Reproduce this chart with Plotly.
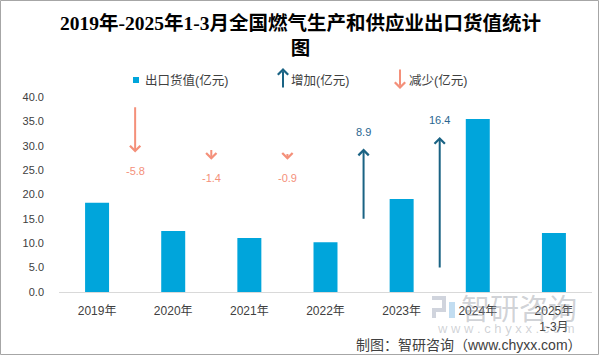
import plotly.graph_objects as go

# ---------------- data ----------------
years = ["2019年", "2020年", "2021年", "2022年", "2023年", "2024年", "2025年<br>1-3月"]
export_value = [18.3, 12.5, 11.1, 10.2, 19.1, 35.5, 12.1]          # 出口货值(亿元)
change_pos = [0.5, 1.5, 2.5, 3.5, 4.5]                              # between categories
change_value = [-5.8, -1.4, -0.9, 8.9, 16.4]                        # 增加/减少(亿元)
change_label = ["-5.8", "-1.4", "-0.9", "8.9", "16.4"]
arrow_base = [23.1, 17.8, 17.3, 8.9, 2.85]                          # start of arrows (secondary scale)
y_ticks = [0, 5, 10, 15, 20, 25, 30, 35, 40]

# ---------------- layout constants ----------------
W, H = 601, 356
L, R, T, B = 59, 9, 97, 64
PW, PH = W - L - R, H - T - B

def pxx(x):
    return (x - L) / PW

def pxy(y):
    return (H - B - y) / PH

BAR = "#00A5DB"
UP = "#1A6384"
DOWN = "#F4907A"
TXT = "#404040"
FONT = "Liberation Sans, Noto Sans CJK SC, sans-serif"

fig = go.Figure()
fig.add_trace(go.Bar(
    x=list(range(len(years))), y=export_value, width=0.315,
    marker=dict(color=BAR, line=dict(width=0)), showlegend=False,
    hoverinfo="skip",
))
fig.add_trace(go.Scatter(
    x=change_pos, y=arrow_base, yaxis="y2", mode="markers",
    marker=dict(opacity=0), showlegend=False, hoverinfo="skip",
))

ann = []
for xp, base, ch, lab in zip(change_pos, arrow_base, change_value, change_label):
    end = base + ch
    col = UP if ch > 0 else DOWN
    ann.append(dict(x=xp, y=end, xref="x", yref="y2", ax=xp, ay=base,
                    axref="x", ayref="y2", text="", showarrow=True,
                    arrowhead=4, arrowsize=1.0, arrowwidth=2, arrowcolor=col))
    ann.append(dict(x=xp, y=end, xref="x", yref="y2", text=lab, showarrow=False,
                    yshift=17 if ch > 0 else -18, yanchor="middle",
                    font=dict(size=11, color="#2A6690" if ch > 0 else DOWN, family=FONT)))

# title
ann.append(dict(x=pxx(300.5), y=pxy(10), xref="paper", yref="paper",
                text="<b>2019年-2025年1-3月全国燃气生产和供应业出口货值统计<br>图</b>",
                showarrow=False, xanchor="center", yanchor="top", align="center",
                font=dict(size=19.5, color="black", family="Liberation Serif, Noto Sans CJK SC")))

# legend (manual)
ann.append(dict(x=pxx(143), y=pxy(80), xref="paper", yref="paper", text="出口货值(亿元)",
                showarrow=False, xanchor="left", yanchor="middle",
                font=dict(size=12.5, color=TXT, family=FONT)))
ann.append(dict(x=pxx(283), y=pxy(68), xref="paper", yref="paper", ax=0, ay=21, text="",
                showarrow=True, arrowhead=4, arrowsize=1.0, arrowwidth=2, arrowcolor=UP))
ann.append(dict(x=pxx(289), y=pxy(80), xref="paper", yref="paper", text="增加(亿元)",
                showarrow=False, xanchor="left", yanchor="middle",
                font=dict(size=12.5, color=TXT, family=FONT)))
ann.append(dict(x=pxx(400), y=pxy(89), xref="paper", yref="paper", ax=0, ay=-21, text="",
                showarrow=True, arrowhead=4, arrowsize=1.0, arrowwidth=2, arrowcolor=DOWN))
ann.append(dict(x=pxx(407), y=pxy(80), xref="paper", yref="paper", text="减少(亿元)",
                showarrow=False, xanchor="left", yanchor="middle",
                font=dict(size=12.5, color=TXT, family=FONT)))

# watermark
ann.append(dict(x=pxx(519), y=pxy(307), xref="paper", yref="paper", text="智研咨询",
                showarrow=False, xanchor="center", yanchor="middle",
                font=dict(size=29, color="rgba(150,155,165,0.45)", family="Noto Sans CJK SC")))
ann.append(dict(x=pxx(506), y=pxy(328), xref="paper", yref="paper",
                text="w w w . c h y x x . c o m",
                showarrow=False, xanchor="center", yanchor="middle",
                font=dict(size=13, color="rgba(150,155,165,0.45)", family=FONT)))
# footer
ann.append(dict(x=pxx(584), y=pxy(345), xref="paper", yref="paper",
                text="制图：智研咨询（www.chyxx.com）",
                showarrow=False, xanchor="right", yanchor="middle",
                font=dict(size=14, color=TXT, family=FONT)))

shapes = [
    # legend marker
    dict(type="rect", xref="paper", yref="paper", x0=pxx(133), x1=pxx(139), y0=pxy(83), y1=pxy(77),
         fillcolor=BAR, line=dict(width=0)),
    # watermark logo (simplified)
    dict(type="rect", xref="paper", yref="paper", x0=pxx(432), x1=pxx(446), y0=pxy(300), y1=pxy(296),
         fillcolor="rgba(150,160,180,0.45)", line=dict(width=0)),
    dict(type="rect", xref="paper", yref="paper", x0=pxx(442), x1=pxx(446), y0=pxy(308), y1=pxy(300),
         fillcolor="rgba(150,160,180,0.45)", line=dict(width=0)),
    dict(type="rect", xref="paper", yref="paper", x0=pxx(432), x1=pxx(446), y0=pxy(312), y1=pxy(308),
         fillcolor="rgba(150,160,180,0.45)", line=dict(width=0)),
    dict(type="rect", xref="paper", yref="paper", x0=pxx(432), x1=pxx(436), y0=pxy(318), y1=pxy(312),
         fillcolor="rgba(150,160,180,0.45)", line=dict(width=0)),
    dict(type="rect", xref="paper", yref="paper", x0=pxx(449), x1=pxx(455), y0=pxy(318), y1=pxy(302),
         fillcolor="rgba(120,180,225,0.45)", line=dict(width=0)),
    # outer border
    dict(type="rect", xref="paper", yref="paper", x0=pxx(0.5), x1=pxx(598.5), y0=pxy(354.5), y1=pxy(0.5),
         line=dict(color="#A6A6A6", width=1), fillcolor="rgba(0,0,0,0)", layer="above"),
]

fig.update_layout(
    width=W, height=H,
    margin=dict(l=L, r=R, t=T, b=B),
    paper_bgcolor="white", plot_bgcolor="white",
    xaxis=dict(range=[-0.5, 6.5], tickmode="array", tickvals=list(range(len(years))),
               ticktext=years, showgrid=False, zeroline=False, showline=True,
               linecolor="#D9D9D9", linewidth=1, ticks="", ticklabelstandoff=8,
               tickfont=dict(size=12, color=TXT, family=FONT), fixedrange=True),
    yaxis=dict(range=[0, 40], tickmode="array", tickvals=y_ticks, tickformat=".1f",
               showgrid=False, zeroline=False, showline=False, ticks="",
               ticklabelstandoff=14, tickfont=dict(size=11, color=TXT, family=FONT)),
    yaxis2=dict(range=[0, 24.2], overlaying="y", side="right", visible=False),
    annotations=ann, shapes=shapes, showlegend=False,
)

fig.write_html("out.html", config={"displayModeBar": False},
               post_script="document.body.style.margin='0';document.body.style.padding='0';")
